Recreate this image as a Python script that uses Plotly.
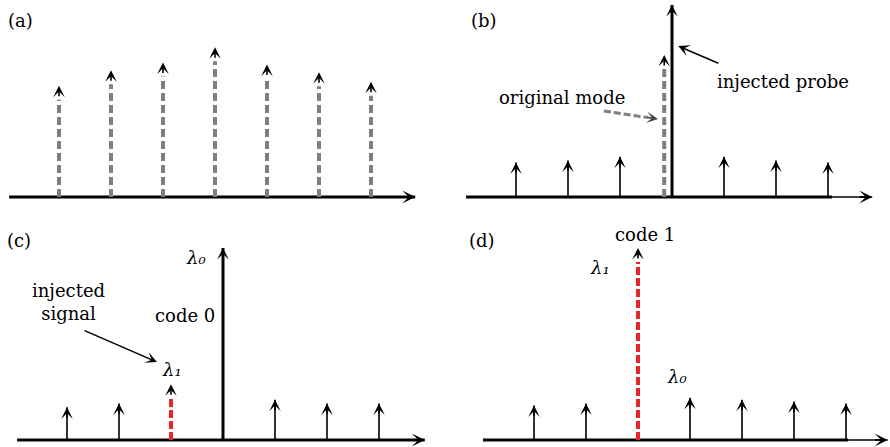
import plotly.graph_objects as go

# ---------------- data (mode index, relative amplitude) ----------------
# (a) free-running comb
modes_a = [-3, -2, -1, 0, 1, 2, 3]
amps_a = [0.58, 0.66, 0.70, 0.78, 0.69, 0.65, 0.60]

# (b) probe injection
side_modes_b = [-3, -2, -1, 1, 2, 3]
side_amps_b = [0.18, 0.19, 0.21, 0.21, 0.19, 0.18]
orig_mode_b = [-0.15]
orig_amp_b = [0.74]
probe_mode_b = [0]
probe_amp_b = [1.0]

# (c) code 0
side_modes_c = [-3, -2, 1, 2, 3]
side_amps_c = [0.17, 0.19, 0.21, 0.19, 0.19]
signal_mode_c = [-1]
signal_amp_c = [0.29]
lam0_mode_c = [0]
lam0_amp_c = [1.0]

# (d) code 1
side_modes_d = [-3, -2, 0, 1, 2, 3]
side_amps_d = [0.18, 0.19, 0.22, 0.21, 0.20, 0.19]
lam1_mode_d = [-1]
lam1_amp_d = [1.0]

panel_labels = ["(a)", "(b)", "(c)", "(d)"]

# ---------------- layout helpers ----------------
W, H = 890, 447
SP = 52.0     # px per mode spacing
AU = 192.0    # px per amplitude unit
GRAY = "#7f7f7f"
RED = "#e8262b"
FONT = "DejaVu Serif"
FS = 18

fig = go.Figure()


def ax_names(n):
    return ("x" if n == 1 else f"x{n}"), ("y" if n == 1 else f"y{n}")


def stems(n, xs, ys, color="black", width=1.6, dash=None, gap=0.0):
    xa, ya = ax_names(n)
    X, Y = [], []
    for x, y in zip(xs, ys):
        X += [x, x, None]
        Y += [0, y - gap, None]
    fig.add_trace(go.Scatter(x=X, y=Y, mode="lines",
                             line=dict(color=color, width=width, dash=dash),
                             xaxis=xa, yaxis=ya, hoverinfo="skip", showlegend=False))


def heads(n, xs, ys, L=12, color="black", w=1.6, size=1.2):
    xa, ya = ax_names(n)
    for x, y in zip(xs, ys):
        fig.add_annotation(x=x, y=y, xref=xa, yref=ya, ax=0, ay=L, text="",
                           showarrow=True, arrowhead=3, arrowwidth=w, arrowsize=size,
                           arrowcolor=color, standoff=0)


def baseline(n, x0, x1, x2=None):
    xa, ya = ax_names(n)
    fig.add_trace(go.Scatter(x=[x0, x1], y=[0, 0], mode="lines",
                             line=dict(color="black", width=3),
                             xaxis=xa, yaxis=ya, hoverinfo="skip", showlegend=False))
    end = x1
    if x2 is not None:
        fig.add_trace(go.Scatter(x=[x1, x2], y=[0, 0], mode="lines",
                                 line=dict(color="black", width=1.6),
                                 xaxis=xa, yaxis=ya, hoverinfo="skip", showlegend=False))
        end = x2
    fig.add_annotation(x=end, y=0, xref=xa, yref=ya, ax=-14, ay=0, text="",
                       showarrow=True, arrowhead=3, arrowwidth=1.8, arrowsize=1.2,
                       arrowcolor="black", standoff=0)


def text(n, x, y, s, size=FS, italic=False):
    xa, ya = ax_names(n)
    fig.add_annotation(x=x, y=y, xref=xa, yref=ya, text=s, showarrow=False,
                       font=dict(family=FONT, size=size, color="black",
                                 style="italic" if italic else "normal"),
                       xanchor="center", yanchor="middle")


GAP = 14 / AU

# (a)
baseline(1, -3.96, 3.85)
stems(1, modes_a, amps_a, color=GRAY, width=4, dash="8px,4px", gap=GAP)
heads(1, modes_a, amps_a)
text(1, -3.75, 0.92, panel_labels[0])

# (b)
baseline(2, -3.96, 3.08, 3.85)
stems(2, side_modes_b, side_amps_b)
heads(2, side_modes_b, side_amps_b)
stems(2, orig_mode_b, orig_amp_b, color=GRAY, width=4, dash="8px,4px", gap=GAP)
heads(2, orig_mode_b, orig_amp_b)
stems(2, probe_mode_b, probe_amp_b, width=3)
heads(2, probe_mode_b, probe_amp_b)
text(2, -3.62, 0.92, panel_labels[1])
text(2, 2.125, 0.60, "injected probe")
text(2, -2.125, 0.52, "original mode")
fig.add_annotation(x=0.12, y=0.786, xref="x2", yref="y2", ax=0.92, ay=0.693,
                   axref="x2", ayref="y2", text="", showarrow=True, arrowhead=3,
                   arrowwidth=1.6, arrowsize=1.2, arrowcolor="black", standoff=0)
# dashed pointer to original mode
tx, ty, hx, hy = -1.31, 0.448, -0.27, 0.406
fig.add_trace(go.Scatter(x=[tx, tx + 0.82 * (hx - tx)], y=[ty, ty + 0.82 * (hy - ty)],
                         mode="lines", line=dict(color=GRAY, width=3, dash="7px,3px"),
                         xaxis="x2", yaxis="y2", hoverinfo="skip", showlegend=False))
fig.add_annotation(x=hx, y=hy, xref="x2", yref="y2",
                   ax=tx + 0.78 * (hx - tx), ay=ty + 0.78 * (hy - ty),
                   axref="x2", ayref="y2", text="", showarrow=True, arrowhead=3,
                   arrowwidth=1.6, arrowsize=1.2, arrowcolor="#444", standoff=0)

# (c)
baseline(3, -3.96, 3.88)
stems(3, side_modes_c, side_amps_c)
heads(3, side_modes_c, side_amps_c)
stems(3, signal_mode_c, signal_amp_c, color=RED, width=4, dash="8px,3px", gap=GAP)
heads(3, signal_mode_c, signal_amp_c)
stems(3, lam0_mode_c, lam0_amp_c, width=3)
heads(3, lam0_mode_c, lam0_amp_c)
text(3, -3.93, 1.04, panel_labels[2])
text(3, -0.52, 0.95, "λ₀", italic=True)
text(3, -0.73, 0.646, "code 0")
text(3, -2.98, 0.72, "injected<br>signal")
text(3, -0.98, 0.365, "λ₁", italic=True)
fig.add_annotation(x=-1.27, y=0.406, xref="x3", yref="y3", ax=-2.69, ay=0.573,
                   axref="x3", ayref="y3", text="", showarrow=True, arrowhead=3,
                   arrowwidth=1.6, arrowsize=1.2, arrowcolor="black", standoff=0)

# (d)
baseline(4, -3.98, 3.04, 3.80)
stems(4, side_modes_d, side_amps_d)
heads(4, side_modes_d, side_amps_d)
stems(4, lam1_mode_d, lam1_amp_d, color=RED, width=4, dash="8px,3px", gap=GAP)
heads(4, lam1_mode_d, lam1_amp_d)
text(4, -4.0, 1.04, panel_labels[3])
text(4, -0.865, 1.07, "code 1")
text(4, -1.73, 0.90, "λ₁", italic=True)
text(4, -0.25, 0.33, "λ₀", italic=True)

# ---------------- axes ----------------
top = [1 - 220 / H, 1]
bot = [0, 1 - 220 / H]
axcfg = dict(visible=False, showgrid=False, zeroline=False, fixedrange=True)
fig.update_layout(
    width=W, height=H,
    margin=dict(l=0, r=0, t=0, b=0),
    paper_bgcolor="white", plot_bgcolor="rgba(0,0,0,0)",
    showlegend=False,
    xaxis=dict(domain=[0, 0.5], range=[-215 / SP, 230 / SP], anchor="y", **axcfg),
    yaxis=dict(domain=top, range=[-23 / AU, 197 / AU], anchor="x", **axcfg),
    xaxis2=dict(domain=[0.5, 1], range=[-227 / SP, 218 / SP], anchor="y2", **axcfg),
    yaxis2=dict(domain=top, range=[-23 / AU, 197 / AU], anchor="x2", **axcfg),
    xaxis3=dict(domain=[0, 0.5], range=[-223 / SP, 222 / SP], anchor="y3", **axcfg),
    yaxis3=dict(domain=bot, range=[-7 / AU, 220 / AU], anchor="x3", **axcfg),
    xaxis4=dict(domain=[0.5, 1], range=[-245 / SP, 200 / SP], anchor="y4", **axcfg),
    yaxis4=dict(domain=bot, range=[-7 / AU, 220 / AU], anchor="x4", **axcfg),
)

fig.write_html("out.html", config={"displayModeBar": False},
               post_script="document.body.style.margin='0px';")
